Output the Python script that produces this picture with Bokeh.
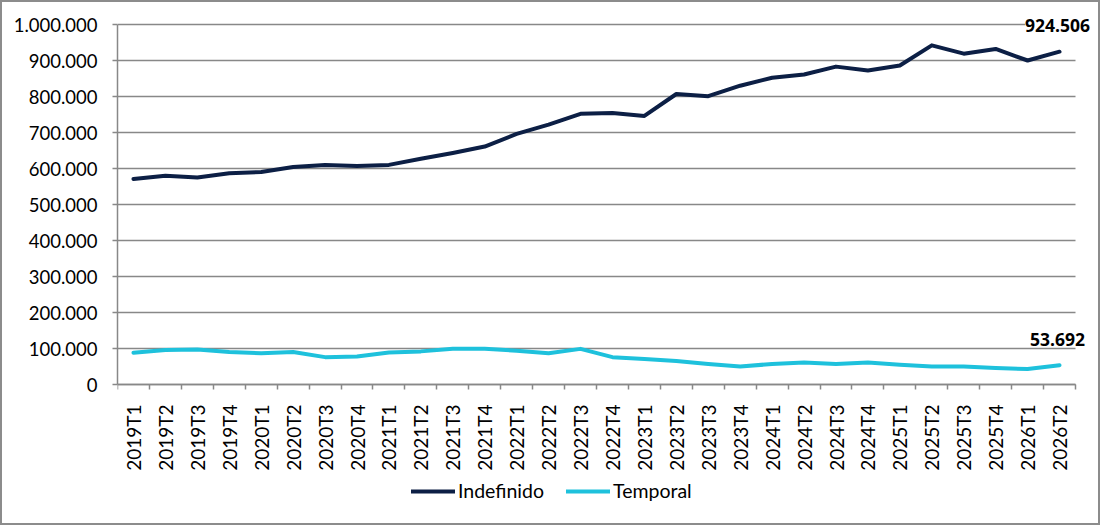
import math
from bokeh.plotting import figure
from bokeh.models import (ColumnDataSource, FixedTicker, Legend, LegendItem,
                          LabelSet, Range1d)
from bokeh.core.properties import value
from bokeh.embed import file_html
from bokeh.resources import INLINE

categories = ["2019T1", "2019T2", "2019T3", "2019T4", "2020T1", "2020T2", "2020T3", "2020T4",
              "2021T1", "2021T2", "2021T3", "2021T4", "2022T1", "2022T2", "2022T3", "2022T4",
              "2023T1", "2023T2", "2023T3", "2023T4", "2024T1", "2024T2", "2024T3", "2024T4",
              "2025T1", "2025T2", "2025T3", "2025T4", "2026T1", "2026T2"]
indefinido = [571000, 580000, 575000, 587000, 590000, 604000, 610000, 607000, 610000, 627000,
              643000, 661000, 696000, 722000, 752000, 754000, 746000, 807000, 801000, 830000,
              852000, 861000, 883000, 872000, 886000, 942000, 919000, 932000, 900000, 924506]
temporal = [88000, 96000, 97000, 90000, 87000, 90000, 76000, 78000, 89000, 92000,
            99000, 99000, 94000, 87000, 99000, 76000, 71000, 65000, 57000, 50000,
            57000, 61000, 57000, 61000, 55000, 50000, 50000, 46000, 43000, 53692]
y_ticks = [0, 100000, 200000, 300000, 400000, 500000, 600000, 700000, 800000, 900000, 1000000]
y_tick_labels = ["0", "100.000", "200.000", "300.000", "400.000", "500.000", "600.000",
                 "700.000", "800.000", "900.000", "1.000.000"]

NAVY = "#0c1f45"
CYAN = "#1ec1dc"
GREY = "#888888"
FONT = "Lato"

W, H = 1096, 521            # figure content size (plus 2px border on each side)
LEFT = 115                  # space for the y axis
TOP_GAP = 22                # from frame top to the 1.000.000 line
PLOT_H = 360                # pixels for 0 .. 1.000.000
PLOT_W = 958                # pixels for the 30 categories

n = len(categories)
xs = list(range(n))
unit_px = PLOT_W / n
x_end = n - 0.5 + (W - LEFT - PLOT_W) / unit_px
px_per = PLOT_H / y_ticks[-1]
y_end = y_ticks[-1] + TOP_GAP / px_per
y_start = -(H - TOP_GAP - PLOT_H) / px_per

p = figure(width=W, height=H, output_backend="svg", toolbar_location=None,
           x_range=Range1d(-0.5, x_end), y_range=Range1d(y_start, y_end),
           min_border_left=LEFT, min_border_right=0, min_border_top=0, min_border_bottom=0)
p.frame_width = W - LEFT
p.frame_height = H
p.outline_line_color = None
p.background_fill_color = "white"
p.border_fill_color = "white"

# horizontal grid lines, limited to the category span
p.xgrid.grid_line_color = None
p.ygrid.grid_line_color = None
p.segment(x0=[-0.5] * len(y_ticks), x1=[n - 0.5] * len(y_ticks), y0=y_ticks, y1=y_ticks,
          line_color=GREY, line_width=1.5)

r1 = p.line(xs, indefinido, line_color=NAVY, line_width=4, line_join="round", line_cap="round")
r2 = p.line(xs, temporal, line_color=CYAN, line_width=4, line_join="round", line_cap="round")

last = n - 1
lab_src = ColumnDataSource(dict(
    x=[last, last],
    y=[indefinido[-1], temporal[-1]],
    t=[f"{indefinido[-1]:,}".replace(",", "."), f"{temporal[-1]:,}".replace(",", ".")]))
p.add_layout(LabelSet(x="x", y="y", text="t", source=lab_src, y_offset=26, x_offset=-2,
                      text_align="center", text_baseline="middle",
                      text_font=value("Open Sans"), text_font_size=value("17.5px"),
                      text_font_style=value("bold"),
                      text_color=value("black"), background_fill_color=value("white")))

# x axis, drawn at y = 0
xa = p.xaxis[0]
xa.fixed_location = 0
xa.bounds = (-0.5, n - 0.5)
xa.ticker = FixedTicker(ticks=xs, minor_ticks=[i - 0.5 for i in range(n + 1)])
xa.major_label_overrides = {i: c for i, c in enumerate(categories)}
xa.major_label_orientation = math.pi / 2
xa.major_tick_out = 0
xa.major_tick_in = 0
xa.minor_tick_out = 5
xa.minor_tick_in = 0
xa.minor_tick_line_color = GREY
xa.minor_tick_line_width = 1.5
xa.axis_line_color = GREY
xa.axis_line_width = 1.5
xa.major_label_text_font = FONT
xa.major_label_text_font_size = "19px"
xa.major_label_text_color = "black"
xa.major_label_standoff = 15

# y axis
ya = p.yaxis[0]
ya.bounds = (0, y_ticks[-1])
ya.ticker = FixedTicker(ticks=y_ticks)
ya.major_label_overrides = {t: l for t, l in zip(y_ticks, y_tick_labels)}
ya.major_tick_out = 5
ya.major_tick_in = 0
ya.major_tick_line_color = GREY
ya.major_tick_line_width = 1.5
ya.minor_tick_line_color = None
ya.axis_line_color = GREY
ya.axis_line_width = 1.5
ya.major_label_text_font = FONT
ya.major_label_text_font_size = "18.5px"
ya.major_label_text_color = "black"
ya.major_label_standoff = 15

legend = Legend(items=[LegendItem(label="Indefinido", renderers=[r1]),
                       LegendItem(label="Temporal", renderers=[r2])],
                orientation="horizontal", location=(294, 21),
                border_line_color=None, background_fill_alpha=0,
                glyph_width=44, glyph_height=20, label_standoff=3, spacing=22,
                padding=0, margin=0,
                label_text_font=FONT, label_text_font_size="19.5px", label_text_color="black")
p.add_layout(legend, "center")

p.styles = {"border": "2px solid #8c8c8c"}

open("out.html", "w").write(file_html(p, INLINE))
